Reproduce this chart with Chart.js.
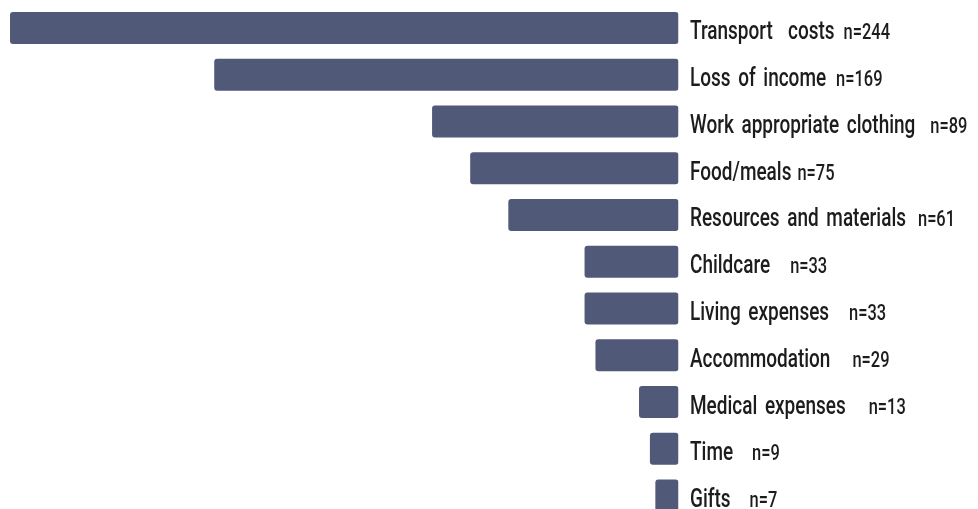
<!DOCTYPE html>
<html>
<head>
<meta charset="utf-8">
<script src="https://cdn.jsdelivr.net/npm/chart.js@4/dist/chart.umd.min.js"></script>
<style>
  html, body { margin: 0; padding: 0; background: #ffffff; overflow: hidden; }
  #wrap { width: 978px; height: 509px; overflow: hidden; position: relative; }
  canvas { display: block; }
</style>
</head>
<body>
<div id="wrap"><canvas id="chart" width="978" height="520"></canvas></div>
<script>
// Costs reported by respondents
const categories = [
  'Transport  costs',
  'Loss of income',
  'Work appropriate clothing',
  'Food/meals',
  'Resources and materials',
  'Childcare',
  'Living expenses',
  'Accommodation',
  'Medical expenses',
  'Time',
  'Gifts'
];
const counts = [244, 169, 89, 75, 61, 33, 33, 29, 13, 9, 7];

// gap (px) between each category name and its "n=" count
const countGap = [9, 10, 15, 6, 12, 20, 20, 22, 23, 19, 19];

const BAR = '#505a78';
const INK = '#1c1c1c';
const SQUEEZE = 0.73;       // horizontal condensing of label glyphs
const NAME_FONT = '500 26px Roboto, "Noto Sans", sans-serif';
const COUNT_FONT = '500 22.5px Roboto, "Noto Sans", sans-serif';

// Draws "Name  n=value" to the right of every bar
const barLabels = {
  id: 'barLabels',
  afterDatasetsDraw(chart) {
    const ctx = chart.ctx;
    const meta = chart.getDatasetMeta(0);
    const x0 = chart.chartArea.right + 11.5;
    ctx.save();
    ctx.fillStyle = INK;
    ctx.textBaseline = 'alphabetic';
    ctx.textAlign = 'left';
    if ('wordSpacing' in ctx) ctx.wordSpacing = '4px';
    meta.data.forEach((bar, i) => {
      const y = bar.y + 11.5;
      ctx.save();
      ctx.translate(x0, y);
      ctx.scale(SQUEEZE, 1);
      ctx.font = NAME_FONT;
      const name = chart.data.labels[i];
      ctx.fillText(name, 0, 0);
      const w = ctx.measureText(name).width;
      ctx.font = COUNT_FONT;
      ctx.fillText('n=' + chart.data.datasets[0].data[i], w + countGap[i] / SQUEEZE, 0);
      ctx.restore();
    });
    ctx.restore();
  }
};

new Chart(document.getElementById('chart'), {
  type: 'bar',
  data: {
    labels: categories,
    datasets: [{
      data: counts,
      base: -1.5,
      backgroundColor: BAR,
      borderWidth: 0,
      borderRadius: 3,
      borderSkipped: false,
      barPercentage: 0.684,
      categoryPercentage: 1
    }]
  },
  options: {
    indexAxis: 'y',
    responsive: false,
    devicePixelRatio: 1,
    animation: false,
    layout: { padding: { left: 10, right: 299.5, top: 4.6, bottom: 1.1 } },
    plugins: { legend: { display: false }, tooltip: { enabled: false } },
    scales: {
      x: { type: 'linear', reverse: true, min: -1.5, max: 244, display: false },
      y: { type: 'category', display: false }
    }
  },
  plugins: [barLabels]
});
</script>
</body>
</html>
